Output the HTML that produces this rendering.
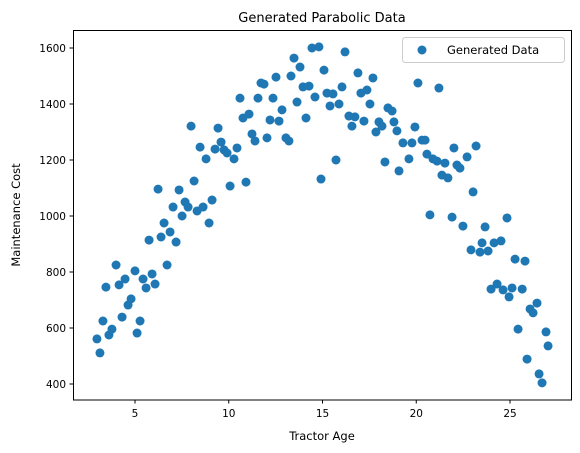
<!DOCTYPE html>
<html><head><meta charset="utf-8"><style>
body{margin:0;background:#fff;}
svg{display:block;font-family:"DejaVu Sans","Liberation Sans",sans-serif;}
</style></head><body>
<svg id="chart" width="580" height="453">
<text x="322" y="22" text-anchor="middle" font-size="13" fill="#000">Generated Parabolic Data</text>
<text x="322" y="440" text-anchor="middle" font-size="11.5" fill="#000">Tractor Age</text>
<text transform="translate(20,215) rotate(-90)" text-anchor="middle" font-size="11.5" fill="#000">Maintenance Cost</text>
<g id="xticks"></g>
<g id="yticks"></g>
<g id="points"></g>
<rect x="73.5" y="30.5" width="498" height="369.5" fill="none" stroke="#000" stroke-width="1"/>
<g>
<rect x="402.5" y="37.5" width="162" height="25" rx="3" fill="#fff" stroke="#ccc"/>
<circle cx="422" cy="50" r="4.5" fill="#1f77b4"/>
<text x="447" y="54" font-size="11.5" fill="#000">Generated Data</text>
</g>
</svg>
<script>
const xTicks=[5,10,15,20,25];
const yTicks=[400,600,800,1000,1200,1400,1600];
const ages=[2.97,3.13,3.29,3.45,3.61,3.77,3.99,4.15,4.31,4.47,4.63,4.79,5.00,5.11,5.27,5.43,5.59,5.75,5.91,6.07,6.23,6.39,6.55,6.71,6.87,7.03,7.19,7.35,7.51,7.67,7.83,7.99,8.15,8.31,8.47,8.63,8.79,8.95,9.11,9.27,9.43,9.59,9.75,9.91,10.07,10.28,10.44,
10.6,10.76,10.92,11.08,11.24,11.40,11.56,11.72,11.88,12.04,12.2,12.36,12.52,12.68,12.84,13.05,13.21,13.32,13.48,13.64,13.8,13.96,14.12,14.28,14.44,14.81,14.6,14.92,15.08,15.24,15.4,15.56,15.72,15.88,16.04,16.2,16.41,16.57,16.73,16.89,17.05,17.21,17.37,17.53,17.69,17.85,18.01,18.17,18.33,18.49,18.71,18.81,18.97,19.08,
19.29,19.61,19.77,19.93,20.09,20.31,20.47,20.57,20.73,20.89,21.11,21.21,21.37,21.53,21.69,21.91,22.01,22.17,22.33,22.49,22.71,22.92,23.03,23.19,23.4,23.51,23.67,23.83,23.99,24.15,24.31,24.52,24.63,24.84,24.95,25.11,25.27,25.43,25.65,25.8,25.91,26.07,26.23,26.44,26.55,26.71,26.92,27.03];
const costs=[561,511,625,746,575,596,825,754,639,775,682,704,804,582,625,775,743,914,793,757,1096,925,975,825,943,1032,907,1093,1000,1050,1032,1321,1125,1018,1246,1032,1204,975,1057,1239,1314,1264,1236,1225,1107,1204,1243,
1421,1350,1121,1364,1293,1268,1421,1475,1471,1279,1343,1421,1496,1339,1379,1279,1268,1500,1564,1407,1532,1461,1350,1464,1600,1604,1425,1132,1521,1439,1393,1436,1200,1400,1461,1586,1357,1321,1354,1511,1439,1339,1450,1400,1493,1300,1336,1321,1193,1386,1375,1336,1304,1161,
1261,1204,1261,1318,1475,1271,1271,1221,1004,1204,1196,1457,1146,1189,1136,996,1243,1182,1171,964,1211,879,1086,1250,871,904,961,875,739,904,757,911,736,993,711,743,846,596,739,839,489,668,654,689,436,404,586,536];
const NS="http://www.w3.org/2000/svg";
function xs(v){return 41.25+v*18.75;}
function ys(v){return 384-(v-400)*0.28;}
const gx=document.getElementById('xticks');
xTicks.forEach(t=>{
  const l=document.createElementNS(NS,'line');
  l.setAttribute('x1',xs(t));l.setAttribute('x2',xs(t));l.setAttribute('y1',400);l.setAttribute('y2',403.5);
  l.setAttribute('stroke','#000');
  
  
  gx.appendChild(l);
  const tx=document.createElementNS(NS,'text');
  tx.setAttribute('x',xs(t));tx.setAttribute('y',417);tx.setAttribute('text-anchor','middle');tx.setAttribute('font-size','10.5');
  tx.textContent=t;
  
  
  gx.appendChild(tx);
});
const gy=document.getElementById('yticks');
yTicks.forEach(t=>{
  const l=document.createElementNS(NS,'line');
  l.setAttribute('x1',69.5);l.setAttribute('x2',73.5);l.setAttribute('y1',ys(t));l.setAttribute('y2',ys(t));
  l.setAttribute('stroke','#000');
  
  
  gy.appendChild(l);
  const tx=document.createElementNS(NS,'text');
  tx.setAttribute('x',66);tx.setAttribute('y',ys(t)+4);tx.setAttribute('text-anchor','end');tx.setAttribute('font-size','10.5');
  tx.textContent=t;
  
  
  gy.appendChild(tx);
});
const gp=document.getElementById('points');
ages.forEach((a,i)=>{
  const c=document.createElementNS(NS,'circle');
  c.setAttribute('cx',xs(a));c.setAttribute('cy',ys(costs[i]));c.setAttribute('r',4.5);c.setAttribute('fill','#1f77b4');
  
  
  gp.appendChild(c);
});
</script>
</body></html>
